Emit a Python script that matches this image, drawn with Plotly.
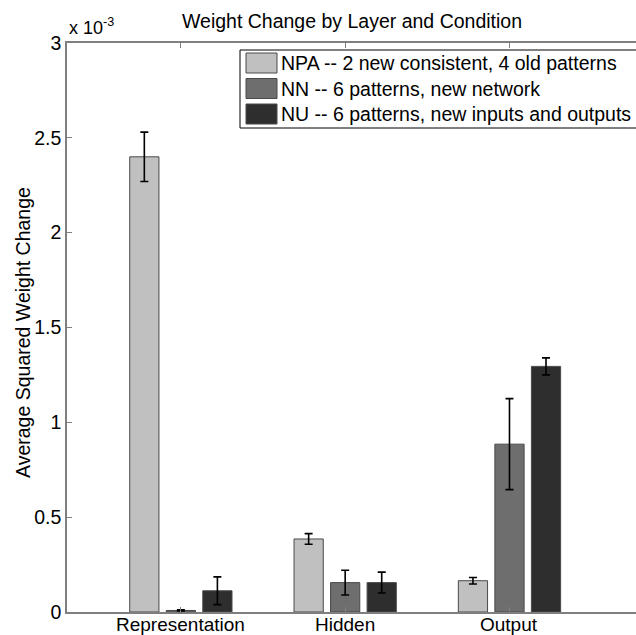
import plotly.graph_objects as go

categories = ["Representation", "Hidden", "Output"]
series_names = [
    "NPA -- 2 new consistent, 4 old patterns",
    "NN -- 6 patterns, new network",
    "NU -- 6 patterns, new inputs and outputs",
]
# values in units of 1e-3
npa_vals = [2.40, 0.385, 0.165]
npa_err = [0.13, 0.028, 0.017]
nn_vals = [0.008, 0.155, 0.885]
nn_err = [0.003, 0.065, 0.24]
nu_vals = [0.112, 0.155, 1.295]
nu_err = [0.073, 0.055, 0.045]
colors = ["#c0c0c0", "#6e6e6e", "#2e2e2e"]
ytick_vals = [0, 0.5, 1, 1.5, 2, 2.5, 3]
ytick_text = ["0", "0.5", "1", "1.5", "2", "2.5", "3"]

W, H = 636, 635
L, R, T, B = 67, 0, 43, 23
PW, PH = W - L - R, H - T - B


def px(xp):
    return (xp - L) / PW


def py(yp):
    return 1 - (yp - T) / PH


font = "Liberation Sans, Arial, sans-serif"
fig = go.Figure()
for name, vals, errs, col in zip(series_names, [npa_vals, nn_vals, nu_vals],
                                 [npa_err, nn_err, nu_err], colors):
    fig.add_trace(go.Bar(
        x=[1, 2, 3], y=vals, name=name,
        marker=dict(color=col, line=dict(color="#4a4a4a", width=1)),
        error_y=dict(type="data", array=errs, visible=True, color="black",
                     thickness=1.6, width=4),
    ))

annotations = [
    dict(text="x 10<sup>-3</sup>", xref="paper", yref="paper",
         x=0.0, y=py(40), xanchor="left", yanchor="bottom",
         showarrow=False, font=dict(size=18, family=font, color="black")),
    dict(text="Average Squared Weight Change", xref="paper", yref="paper",
         x=px(23), y=py(333), xanchor="center", yanchor="middle", textangle=-90,
         showarrow=False, font=dict(size=19.5, family=font, color="black")),
]
for i, c in enumerate(categories):
    annotations.append(dict(text=c, xref="x", yref="paper", x=i + 1, y=0,
                            xanchor="center", yanchor="top", yshift=0,
                            showarrow=False,
                            font=dict(size=19, family=font, color="black")))

shapes = [dict(type="rect", xref="paper", yref="paper",
               x0=px(240), x1=px(660), y0=py(128), y1=py(50),
               line=dict(color="black", width=1), fillcolor="white", layer="above")]
row_centers = [63, 88.5, 114]
for name, col, yc in zip(series_names, colors, row_centers):
    shapes.append(dict(type="rect", xref="paper", yref="paper",
                       x0=px(246), x1=px(277), y0=py(yc + 10), y1=py(yc - 10),
                       line=dict(color="#4a4a4a", width=1), fillcolor=col, layer="above"))
    annotations.append(dict(text=name, xref="paper", yref="paper",
                            x=px(279), y=py(yc), xanchor="left", yanchor="middle",
                            showarrow=False,
                            font=dict(size=19.5, family=font, color="black")))

fig.update_layout(
    width=W, height=H,
    margin=dict(l=L, r=R, t=T, b=B),
    paper_bgcolor="white", plot_bgcolor="white",
    barmode="group", bargap=0.333, bargroupgap=0.2,
    font=dict(family=font, size=19.5, color="black"),
    title=dict(text="Weight Change by Layer and Condition", x=352 / W, xanchor="center",
               y=1 - 21 / H, yanchor="middle", font=dict(size=19.5, family=font, color="black")),
    showlegend=False,
    xaxis=dict(range=[0.307, 3.77], tickvals=[1, 2, 3], showticklabels=False,
               ticks="inside", ticklen=5, tickcolor="#7f7f7f",
               showline=True, linecolor="#7f7f7f", linewidth=1.5, mirror="ticks",
               showgrid=False, zeroline=False, automargin=False),
    yaxis=dict(range=[0, 3], tickvals=ytick_vals, ticktext=ytick_text,
               ticks="inside", ticklen=5, tickcolor="#7f7f7f",
               showline=True, linecolor="#7f7f7f", linewidth=1.5,
               showgrid=False, zeroline=False, automargin=False,
               tickfont=dict(size=19.5, family=font, color="black")),
    annotations=annotations,
    shapes=shapes,
)

fig.write_html("out.html", config={"displayModeBar": False},
               post_script="document.body.style.margin='0';document.body.style.overflow='hidden';")
